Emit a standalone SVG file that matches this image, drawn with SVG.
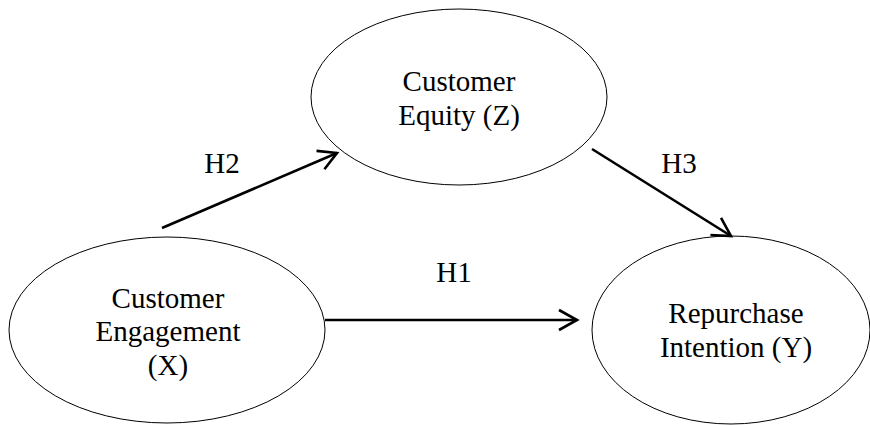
<svg xmlns="http://www.w3.org/2000/svg" width="870" height="425" viewBox="0 0 870 425">
<defs>
<style>
.node ellipse{fill:#fff;stroke:#000;stroke-width:1}
text{font-family:"Liberation Serif","Times New Roman",serif;font-size:29px;fill:#000;text-anchor:middle}
.edge{stroke:#000;stroke-width:2.6;fill:none}
</style>
<marker id="arr" viewBox="-20 -12 24 24" markerWidth="24" markerHeight="24" refX="0" refY="0" orient="auto" markerUnits="userSpaceOnUse">
<path d="M-18,-10 L0,0 L-18,10" fill="none" stroke="#000" stroke-width="2.6"/>
</marker>
</defs>
<rect width="870" height="425" fill="#fff"/>
<g id="node-x" class="node">
<ellipse cx="167" cy="330" rx="158" ry="93"/>
<text x="168" y="308">Customer</text>
<text x="168" y="341">Engagement</text>
<text x="168" y="375">(X)</text>
</g>
<g id="node-z" class="node">
<ellipse cx="459" cy="97" rx="148" ry="88"/>
<text x="459" y="91">Customer</text>
<text x="459" y="125">Equity (Z)</text>
</g>
<g id="node-y" class="node">
<ellipse cx="731" cy="330" rx="139" ry="94"/>
<text x="736" y="323">Repurchase</text>
<text x="736" y="357">Intention (Y)</text>
</g>
<g id="connectors">
<line class="edge" x1="325" y1="320" x2="577" y2="320" marker-end="url(#arr)"/>
<line class="edge" x1="162" y1="228" x2="337" y2="153" marker-end="url(#arr)"/>
<line class="edge" x1="592" y1="149" x2="731" y2="236" marker-end="url(#arr)"/>
<text x="454" y="282">H1</text>
<text x="222" y="173">H2</text>
<text x="679" y="173">H3</text>
</g>
</svg>
